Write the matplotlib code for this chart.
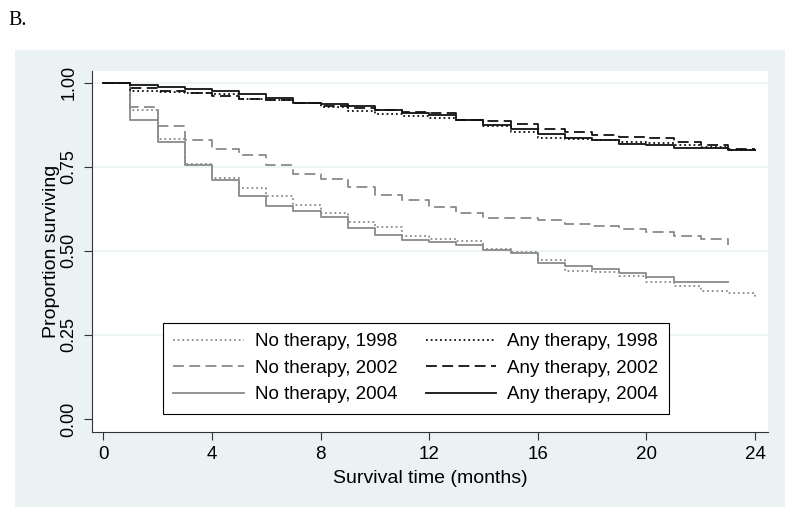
import matplotlib
matplotlib.use("Agg")
import matplotlib.pyplot as plt
from matplotlib.patches import Rectangle

# Kaplan-Meier estimates, one value per month (step after)
months_24 = list(range(25))
months_23 = list(range(24))

no_1998 = [1.0, 0.918, 0.833, 0.758, 0.716, 0.687, 0.662, 0.637, 0.612, 0.587,
           0.572, 0.545, 0.536, 0.528, 0.505, 0.496, 0.473, 0.441, 0.438, 0.426,
           0.407, 0.394, 0.382, 0.374, 0.356]
no_2002 = [1.0, 0.927, 0.870, 0.830, 0.804, 0.784, 0.756, 0.728, 0.713, 0.690,
           0.666, 0.652, 0.630, 0.614, 0.599, 0.597, 0.592, 0.579, 0.574, 0.565,
           0.556, 0.543, 0.536, 0.518]
no_2004 = [1.0, 0.888, 0.825, 0.756, 0.711, 0.664, 0.632, 0.619, 0.602, 0.569,
           0.548, 0.533, 0.525, 0.516, 0.503, 0.493, 0.465, 0.456, 0.446, 0.435,
           0.422, 0.407, 0.407, 0.407]
any_1998 = [1.0, 0.975, 0.971, 0.970, 0.965, 0.951, 0.948, 0.940, 0.927, 0.915,
            0.908, 0.902, 0.895, 0.890, 0.871, 0.852, 0.835, 0.833, 0.830, 0.825,
            0.820, 0.815, 0.810, 0.800, 0.798]
any_2002 = [1.0, 0.985, 0.974, 0.968, 0.961, 0.951, 0.948, 0.940, 0.932, 0.925,
            0.918, 0.912, 0.910, 0.890, 0.885, 0.877, 0.862, 0.852, 0.845, 0.840,
            0.835, 0.825, 0.815, 0.803, 0.803]
any_2004 = [1.0, 0.993, 0.987, 0.981, 0.974, 0.967, 0.954, 0.940, 0.937, 0.930,
            0.918, 0.910, 0.905, 0.890, 0.875, 0.862, 0.847, 0.835, 0.830, 0.818,
            0.816, 0.806, 0.806, 0.799, 0.799]

x_ticks = [0, 4, 8, 12, 16, 20, 24]
y_ticks = [0.0, 0.25, 0.5, 0.75, 1.0]

plt.rcParams["font.family"] = ["Liberation Sans", "DejaVu Sans"]
plt.rcParams["font.sans-serif"] = ["Liberation Sans", "DejaVu Sans"]

fig = plt.figure(figsize=(8, 5.18), dpi=100)
fig.patch.set_facecolor("white")
# stata-like light graph region
fig.patches.append(Rectangle((15 / 800, 1 - 507 / 518), 770 / 800, 457 / 518,
                             transform=fig.transFigure, facecolor="#eaf2f3",
                             edgecolor="none", zorder=-10))
fig.text(8 / 800, 1 - 25 / 518, "B.", family="Liberation Serif", fontsize=14.5,
         va="baseline", ha="left")

ax = fig.add_axes([92 / 800, 1 - 431.7 / 518, 676 / 800, 361 / 518])
ax.set_zorder(1)
ax.set_facecolor("white")

gray = "#8a8a8a"
black = "#111111"
dot = (0, (1, 1.6))
dash = (0, (6, 3))
lw = 1.3

ax.step(months_24, no_1998, where="post", color=gray, lw=lw, ls=dot, label="No therapy, 1998")
ax.step(months_23, no_2002, where="post", color=gray, lw=lw, ls=dash, label="No therapy, 2002")
ax.step(months_23, no_2004, where="post", color=gray, lw=lw, ls="-", label="No therapy, 2004")
ax.step(months_24, any_1998, where="post", color=black, lw=lw, ls=dot, label="Any therapy, 1998")
ax.step(months_24, any_2002, where="post", color=black, lw=lw, ls=dash, label="Any therapy, 2002")
ax.step(months_24, any_2004, where="post", color=black, lw=lw, ls="-", label="Any therapy, 2004")

ax.set_xlim(-0.416, 24.48)
ax.set_ylim(-0.0378, 1.0357)
ax.set_xticks(x_ticks)
ax.set_xticklabels([str(v) for v in x_ticks], family="Liberation Sans")
ax.set_yticks(y_ticks)
ax.set_yticklabels(["%.2f" % v for v in y_ticks], rotation=90, va="center",
                   family="Liberation Sans")
for v in y_ticks[1:]:
    ax.axhline(v, color="#eaf2f3", lw=1.2, zorder=0)

ax.spines["top"].set_visible(False)
ax.spines["right"].set_visible(False)
ax.spines["left"].set_color("#333333")
ax.spines["bottom"].set_color("#333333")
ax.tick_params(axis="both", length=5.5, color="#333333", pad=5)
ax.tick_params(axis="x", labelsize=13.5)
ax.tick_params(axis="y", labelsize=13)

ax.set_xlabel("Survival time (months)", fontsize=14, labelpad=5)
ax.set_ylabel("Proportion surviving", fontsize=14, labelpad=0)

leg = ax.legend(ncol=2, loc="upper left", bbox_to_anchor=(163 / 800, 1 - 323 / 518),
                bbox_transform=fig.transFigure, fontsize=13.5, frameon=True,
                fancybox=False, edgecolor="black", framealpha=1, handlelength=3.75,
                handletextpad=0.6, columnspacing=1.5, labelspacing=0.5,
                borderpad=0.55, borderaxespad=0)
leg.get_frame().set_linewidth(0.8)

fig.savefig("out.png", dpi=100, facecolor="white")
